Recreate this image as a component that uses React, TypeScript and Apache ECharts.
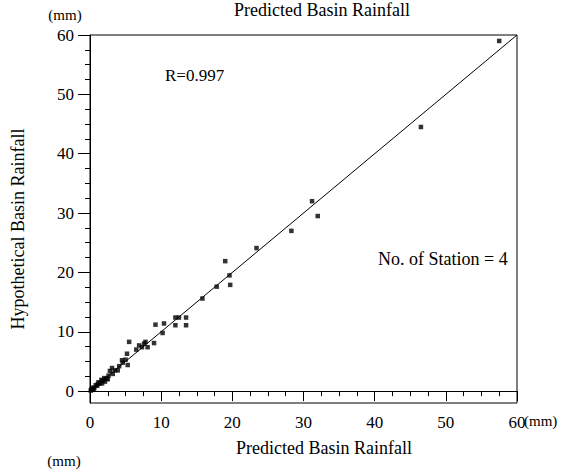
import React, { useEffect, useRef } from "react";
import * as echarts from "echarts";

const points: [number, number][] = [
  [57.5, 59.0], [46.5, 44.5], [31.2, 32.0], [32.0, 29.5], [28.3, 27.0],
  [23.4, 24.1], [19.0, 21.9], [19.6, 19.5], [19.7, 17.9], [17.8, 17.6],
  [15.8, 15.6], [12.0, 12.4], [12.5, 12.4], [13.5, 12.4], [13.5, 11.1],
  [12.0, 11.1], [10.4, 11.4], [9.2, 11.2], [10.2, 9.8], [9.0, 8.1],
  [8.1, 7.4], [7.3, 7.4], [7.8, 8.3], [7.6, 8.0], [6.9, 7.7], [6.5, 7.0],
  [5.5, 8.3], [5.2, 6.3], [5.0, 5.3], [4.6, 4.8], [5.3, 4.4], [4.5, 5.2],
  [4.1, 4.2], [3.9, 3.5], [3.1, 3.9], [3.5, 3.5], [2.8, 3.4], [2.6, 2.6],
  [2.3, 2.1], [2.0, 2.2], [1.8, 1.8], [1.6, 1.9], [1.4, 1.3], [1.2, 1.5],
  [1.0, 0.9], [0.8, 1.0], [0.6, 0.5], [0.4, 0.6], [0.3, 0.2], [0.2, 0.3],
  [0.1, 0.1], [2.5, 2.0], [2.1, 1.6], [1.7, 1.3], [3.2, 2.9], [0.5, 0.3],
  [1.1, 1.2],
];
const fitLine: [number, number][] = [[0, 0], [60, 60]];
const majorTicks = [0, 10, 20, 30, 40, 50, 60];
const minorTicks = [
  2.5, 5, 7.5, 12.5, 15, 17.5, 22.5, 25, 27.5, 32.5, 35, 37.5, 42.5, 45, 47.5,
  52.5, 55, 57.5,
];

const FONT = "Liberation Serif";
const FS = 18;
const TICK_FS = 17;

const txt = (text: string, x: number, y: number, align: string, size = FS, rotation = 0) => ({
  type: "text", x, y, rotation,
  style: { text, fontFamily: FONT, fontSize: size, fill: "#000", align, verticalAlign: "middle" },
});

export default function App() {
  const ref = useRef<HTMLDivElement>(null);
  useEffect(() => {
    if (!ref.current) return;
    const chart = echarts.init(ref.current, null, { renderer: "svg" });
    chart.setOption({
      animation: false,
      backgroundColor: "#fff",
      textStyle: { fontFamily: FONT, color: "#000" },
      grid: {
        left: 90, right: 63, top: 35, bottom: 67,
        show: true, borderColor: "#000", borderWidth: 1,
      },
      xAxis: {
        type: "value", min: 0, max: 60, interval: 10,
        axisLine: { lineStyle: { color: "#000" } },
        axisTick: { length: 10, lineStyle: { color: "#000" } },
        minorTick: { show: true, splitNumber: 4, length: 5, lineStyle: { color: "#000" } },
        splitLine: { show: false },
        axisLabel: { margin: 11, fontSize: TICK_FS, fontFamily: FONT, color: "#000" },
      },
      yAxis: [
        {
          type: "value", min: -2, max: 60, position: "left",
          axisLine: { show: true, lineStyle: { color: "#000" } },
          axisTick: { show: true, length: 12, customValues: majorTicks, lineStyle: { color: "#000" } },
          axisLabel: { customValues: majorTicks, margin: 16, fontSize: TICK_FS, fontFamily: FONT, color: "#000" },
          splitLine: { show: false },
        },
        {
          type: "value", min: -2, max: 60, position: "left", offset: 0,
          axisLine: { show: false },
          axisTick: { show: true, length: 5, customValues: minorTicks, lineStyle: { color: "#000" } },
          axisLabel: { show: false },
          splitLine: { show: false },
        },
      ],
      series: [
        {
          type: "line", data: fitLine, showSymbol: false, symbol: "none",
          lineStyle: { color: "#000", width: 1 }, z: 2,
        },
        {
          type: "scatter", data: points, symbol: "rect", symbolSize: 4.5,
          itemStyle: { color: "#000" }, z: 3,
        },
      ],
      graphic: [
        txt("Predicted Basin Rainfall", 322, 10, "center"),
        txt("Predicted Basin Rainfall", 324, 448, "center"),
        txt("Hypothetical Basin Rainfall", 18, 229, "center", FS, Math.PI / 2),
        txt("(mm)", 65, 15, "center", 15),
        txt("(mm)", 64, 461, "center", 15),
        txt("(mm)", 524, 421, "left", 15),
        txt("R=0.997", 165, 75, "left", 17),
        txt("No. of Station = 4", 378, 259, "left"),
      ],
    });
    return () => chart.dispose();
  }, []);
  return <div ref={ref} style={{ width: 580, height: 470, position: "absolute", left: 0, top: 0 }} />;
}
